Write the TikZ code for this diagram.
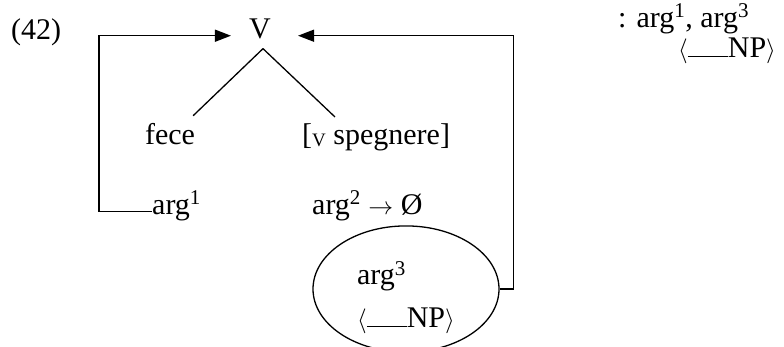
\documentclass[tikz,border=0pt]{standalone}
\usepackage{fontspec}
\setmainfont{Liberation Serif}
\usetikzlibrary{shapes.geometric, arrows.meta, positioning}

\begin{document}
\begin{tikzpicture}[
    x=1pt, y=-1pt,
    word/.style={inner sep=0pt, font=\fontsize{30}{34}\selectfont},
    slot/.style={ellipse, draw=black, line width=1.3pt, minimum width=186pt, minimum height=116pt, inner sep=0pt, align=left, font=\fontsize{30}{43}\selectfont},
    branch/.style={line width=1.3pt},
    arrow/.style={line width=1.4pt, -{Triangle[length=16pt, width=12pt]}},
]
    \useasboundingbox (0,0) rectangle (784,346);

    % example number and tree
    \node (exnum) [word, anchor=base west] at (11,39) {(42)};
    \node (v) [word, anchor=base] at (260,38) {V};
    \node (fece) [word, anchor=base] at (170,144) {fece};
    \node (speg) [word, anchor=base west] at (302,144) {[\raisebox{-2pt}{\fontsize{19}{19}\selectfont V} spegnere]};

    % arguments
    \node (argone) [word, anchor=base west] at (152,214) {arg\textsuperscript{1}};
    \node (argtwo) [word, anchor=base west] at (312,214) {arg\textsuperscript{2} $\rightarrow$ Ø};
    \node (argthree) [slot] at (406,289) {\rule{0pt}{40pt}arg\textsuperscript{3}\\$\langle$\rule{40pt}{1.2pt}NP$\rangle$};

    % frame
    \node (frame) [word, anchor=base west] at (618,27) {: arg\textsuperscript{1}, arg\textsuperscript{3}};
    \node (frameslot) [word, anchor=base west] at (678,57) {$\langle$\rule{40pt}{1.2pt}NP$\rangle$};

    \coordinate (leftrail) at (99,0);

    \draw [branch] ([xshift=3pt,yshift=-10pt]v.south) -- ([xshift=-2pt,yshift=7pt]fece.north east);
    \draw [branch] ([xshift=3pt,yshift=-10pt]v.south) -- ([xshift=33pt,yshift=6pt]speg.north west);

    \draw [arrow, shorten >=18pt] (argone.mid west) -- (argone.mid west -| leftrail) |- (v.mid west);
    \draw [arrow, shorten >=27pt] (argthree.east) -- ++(14,0) |- (v.mid east);

\end{tikzpicture}
\end{document}
